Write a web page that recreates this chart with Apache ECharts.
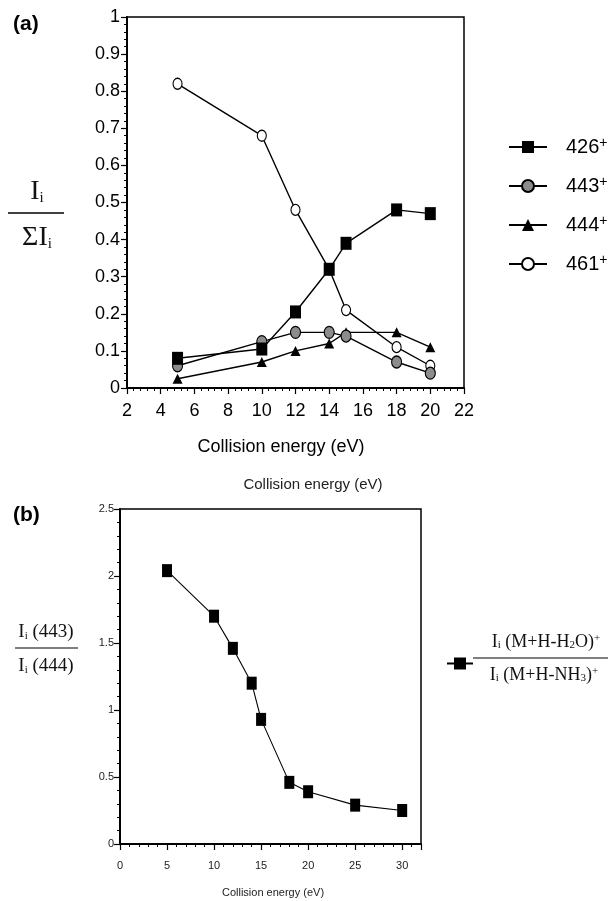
<!DOCTYPE html>
<html>
<head>
<meta charset="utf-8">
<script src="https://cdn.jsdelivr.net/npm/echarts@6/dist/echarts.min.js"></script>
<style>
  html, body { margin: 0; padding: 0; background: #fff; }
  #chart { width: 616px; height: 901px; }
</style>
</head>
<body>
<div id="chart"></div>
<script>
// panel (a): relative intensities vs collision energy
const energyA = [5, 10, 12, 14, 15, 18, 20];
const ion426 = [0.08, 0.105, 0.205, 0.32, 0.39, 0.48, 0.47];
const ion443 = [0.06, 0.125, 0.15, 0.15, 0.14, 0.07, 0.04];
const ion444 = [0.025, 0.07, 0.10, 0.12, 0.15, 0.15, 0.11];
const ion461 = [0.82, 0.68, 0.48, 0.32, 0.21, 0.11, 0.06];
const ionNames = ['426', '443', '444', '461'];

// panel (b): I(443)/I(444) ratio
const energyB = [5, 10, 12, 14, 15, 18, 20, 25, 30];
const ratioB = [2.04, 1.70, 1.46, 1.20, 0.93, 0.46, 0.39, 0.29, 0.25];

const sans = 'Liberation Sans';
const serif = 'Liberation Serif';
const pairs = (xs, ys) => xs.map((x, i) => [x, ys[i]]);

const chart = echarts.init(document.getElementById('chart'), null, { renderer: 'canvas' });

const axisCommon = () => ({
  axisLine: { show: true, lineStyle: { color: '#000', width: 2 } },
  axisTick: { show: true, inside: false, length: 6, lineStyle: { color: '#000', width: 1.2 } },
  minorTick: { show: true, splitNumber: 5, length: 3, lineStyle: { color: '#000', width: 1 } },
  splitLine: { show: false }
});

const lineA = (name, data, symbol, size, fill, z) => ({
  name, type: 'line', xAxisIndex: 0, yAxisIndex: 0,
  data: pairs(energyA, data), symbol, symbolSize: size,
  showAllSymbol: true,
  lineStyle: { color: '#000', width: 1.4 },
  itemStyle: { color: fill, borderColor: '#000', borderWidth: fill === '#000' ? 0 : 1.2 },
  emphasis: { disabled: true }, z
});

const fracText = (x, y, text, size, subSize) => ({
  type: 'text', x, y,
  style: {
    text, align: 'center', verticalAlign: 'middle',
    rich: {
      t: { fontFamily: serif, fontSize: size, fill: '#111' },
      i: { fontFamily: serif, fontSize: subSize, fill: '#111', verticalAlign: 'bottom' },
      s: { fontFamily: serif, fontSize: subSize, fill: '#111', verticalAlign: 'top' }
    }
  }
});

chart.setOption({
  animation: false,
  grid: [
    { left: 127, top: 17, width: 337, height: 371, show: true, borderColor: '#000', borderWidth: 1.5 },
    { left: 120, top: 509, width: 301, height: 335, show: true, borderColor: '#000', borderWidth: 1.5 }
  ],
  xAxis: [
    Object.assign(axisCommon(), {
      type: 'value', gridIndex: 0, min: 2, max: 22, interval: 2,
      axisLabel: { fontFamily: sans, fontSize: 18, color: '#000', margin: 14 }
    }),
    Object.assign(axisCommon(), {
      type: 'value', gridIndex: 1, min: 0, max: 32, interval: 5,
      axisLabel: { fontFamily: sans, fontSize: 11, color: '#222', margin: 16,
        formatter: v => (v % 5 === 0 ? String(v) : '') }
    })
  ],
  yAxis: [
    Object.assign(axisCommon(), {
      type: 'value', gridIndex: 0, min: 0, max: 1, interval: 0.1,
      axisLabel: { fontFamily: sans, fontSize: 18, color: '#000', margin: 7 }
    }),
    Object.assign(axisCommon(), {
      type: 'value', gridIndex: 1, min: 0, max: 2.5, interval: 0.5,
      axisLabel: { fontFamily: sans, fontSize: 11, color: '#222', margin: 6 }
    })
  ],
  legend: [
    {
      data: ionNames.map(n => n + '+'), orient: 'vertical', left: 503, top: 131,
      itemWidth: 38, itemHeight: 15, itemGap: 18,
      selectedMode: false,
      formatter: n => '{a|' + n.replace('+', '') + '}{s|+}',
      textStyle: {
        rich: {
          a: { fontFamily: sans, fontSize: 20, color: '#000', padding: [0, 0, 0, 14], lineHeight: 22 },
          s: { fontFamily: sans, fontSize: 14, color: '#000', verticalAlign: 'top', lineHeight: 14 }
        }
      }
    },
    {
      data: ['ratio'], orient: 'vertical', left: 441, top: 651,
      itemWidth: 26, itemHeight: 15, selectedMode: false,
      formatter: () => ''
    }
  ],
  series: [
    lineA('461+', ion461, 'circle', [9, 11], '#fff', 3),
    lineA('444+', ion444, 'triangle', [10, 10], '#000', 4),
    lineA('443+', ion443, 'circle', [10, 12], '#8c8c8c', 5),
    lineA('426+', ion426, 'rect', [11, 13], '#000', 6),
    {
      name: 'ratio', type: 'line', xAxisIndex: 1, yAxisIndex: 1,
      data: pairs(energyB, ratioB), symbol: 'rect', symbolSize: [10, 13],
      lineStyle: { color: '#000', width: 1.1 },
      itemStyle: { color: '#000' },
      emphasis: { disabled: true }, z: 3
    }
  ],
  graphic: [
    { type: 'text', x: 13, y: 14, style: { text: '(a)', fontFamily: sans, fontSize: 21, fontWeight: 'bold', fill: '#000' } },
    { type: 'text', x: 13, y: 505, style: { text: '(b)', fontFamily: sans, fontSize: 21, fontWeight: 'bold', fill: '#000' } },
    // y-label (a)
    fracText(37, 192, '{t|I}{i|i}', 28, 15),
    { type: 'line', shape: { x1: 8, y1: 213, x2: 64, y2: 213 }, style: { stroke: '#000', lineWidth: 1.4 } },
    fracText(37, 238, '{t|ΣI}{i|i}', 28, 15),
    // x titles
    { type: 'text', x: 281, y: 447, style: { text: 'Collision energy (eV)', fontFamily: sans, fontSize: 18, fill: '#000', align: 'center', verticalAlign: 'middle' } },
    { type: 'text', x: 313, y: 485, style: { text: 'Collision energy (eV)', fontFamily: sans, fontSize: 15, fill: '#222', align: 'center', verticalAlign: 'middle' } },
    { type: 'text', x: 273, y: 893, style: { text: 'Collision energy (eV)', fontFamily: sans, fontSize: 11, fill: '#222', align: 'center', verticalAlign: 'middle' } },
    // y-label (b)
    fracText(46, 632, '{t|I}{i|i}{t| (443)}', 19, 11),
    { type: 'line', shape: { x1: 15, y1: 648, x2: 78, y2: 648 }, style: { stroke: '#000', lineWidth: 1.2 } },
    fracText(46, 666, '{t|I}{i|i}{t| (444)}', 19, 11),
    // legend (b) fraction
    fracText(546, 642, '{t|I}{i|i}{t| (M+H-H}{i|2}{t|O)}{s|+}', 18, 11),
    { type: 'line', shape: { x1: 473, y1: 658, x2: 608, y2: 658 }, style: { stroke: '#000', lineWidth: 1.2 } },
    fracText(544, 675, '{t|I}{i|i}{t| (M+H-NH}{i|3}{t|)}{s|+}', 18, 11)
  ]
});
</script>
</body>
</html>
